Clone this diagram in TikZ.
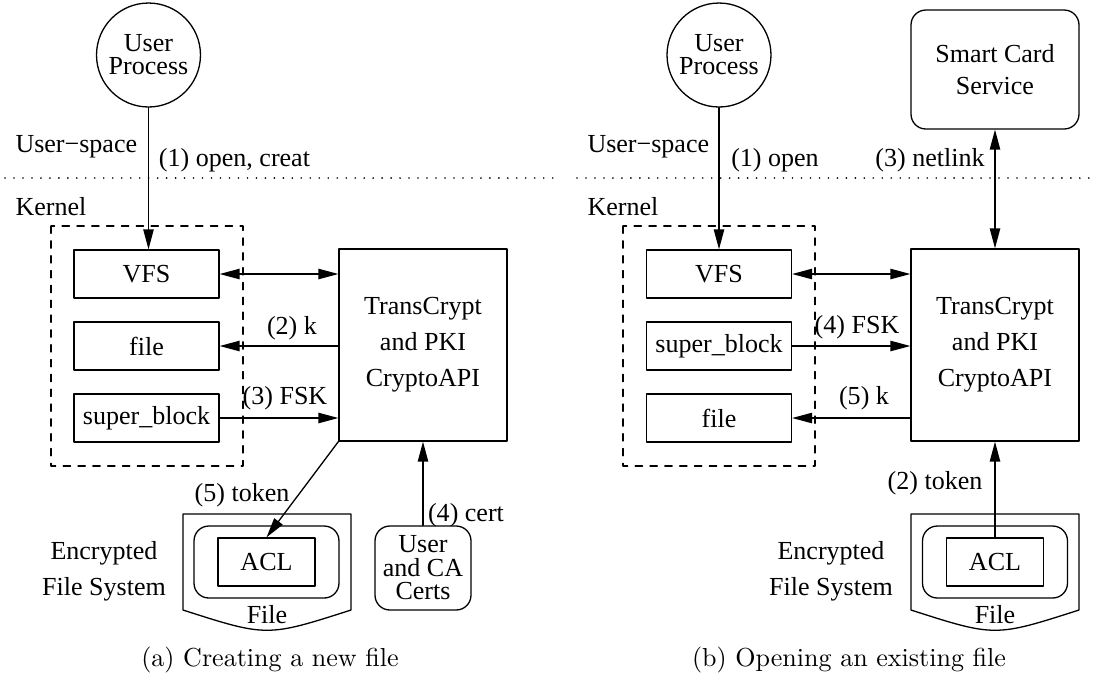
\documentclass[tikz,border=0pt]{standalone}
\usepackage{fontspec}
\newfontfamily\figfont{Liberation Serif}
\usepackage{tikz}
\usetikzlibrary{arrows.meta}
\usetikzlibrary{positioning}

\tikzset{
  blk/.style={draw,line width=0.5pt,inner sep=0pt,minimum width=1.9575cm,minimum height=0.648cm,font=\figfont},
  api/.style={draw,line width=0.5pt,inner sep=0pt,minimum width=2.268cm,minimum height=2.592cm,align=center,font=\figfont\fontsize{10}{13.8}\selectfont},
  svc/.style={draw,line width=0.5pt,rounded corners=0.2cm,inner sep=0pt,minimum width=2.268cm,minimum height=1.6065cm,align=center,font=\figfont\fontsize{10}{12}\selectfont},
  proc/.style={draw,circle,line width=0.5pt,inner sep=0pt,minimum size=1.404cm,align=center,font=\figfont\fontsize{10}{8.8}\selectfont},
  certs/.style={draw,line width=0.5pt,rounded corners=0.2cm,inner sep=0pt,minimum width=1.296cm,minimum height=1.134cm,align=center,font=\figfont\fontsize{10}{9}\selectfont},
  fobj/.style={draw,line width=0.5pt,rounded corners=0.2cm,inner sep=0pt,minimum width=1.9575cm,minimum height=0.972cm},
  acl/.style={draw,line width=0.5pt,inner sep=0pt,minimum width=1.31cm,minimum height=0.648cm,font=\figfont},
  lbl/.style={inner sep=0pt,font=\figfont},
  fslbl/.style={inner sep=0pt,align=center,font=\figfont\fontsize{10}{14}\selectfont},
  kbox/.style={line width=0.5pt,dash pattern=on 2.8pt off 2.9pt},
  uline/.style={line width=0.7pt,dash pattern=on 0pt off 3.45pt},
  efs/.style={line width=0.5pt},
  flow/.style={line width=0.5pt,->},
  subcap/.style={inner sep=0pt}
}

\begin{document}
\begin{tikzpicture}[line cap=round,line join=round,>={Triangle[length=2.7mm,width=1.4mm]},x=0.0135cm,y=-0.0135cm]
\useasboundingbox (0,0) rectangle (1096,696);
% (a) creating a new file
\node[proc] (userA) at (148.5,55) {User\\Process};
\node[lbl,anchor=west] (uspA) at (15,147) {User−space};
\node[lbl,anchor=west] (kerA) at (15,207) {Kernel};
\draw[uline] (5,178) -- (555,178);
\draw[kbox] (51,226) rectangle (243,466);
\node[blk] (vfsA) at (146.5,274) {VFS};
\node[blk] (fileA) at (146.5,346) {file};
\node[blk] (sbA) at (146.5,418) {super\_block};
\node[api] (tcA) at (423,345) {TransCrypt\\and PKI\\CryptoAPI};
\draw[efs] (183,514) -- (183,610) .. controls (267,637) and (267,637) .. (351,610) -- (351,514) -- cycle;
\node[fobj] (fobjA) at (266.5,562) {};
\node[acl] (aclA) at (266.5,562) {ACL};
\node[lbl] (flA) at (267,615) {File};
\node[fslbl] (efsA) at (104,571.5) {Encrypted\\File System};
\node[certs] (certA) at (423,568) {User\\and CA\\Certs};
\node[lbl] (openA) at (234.5,160) {(1) open, creat};
\node[lbl] (kA) at (292,328) {(2) k};
\node[lbl] (fskA) at (285,398) {(3) FSK};
\node[lbl] (certlA) at (466,515) {(4) cert};
\node[lbl] (tokA) at (242,495) {(5) token};
\draw[flow] (userA.south) -- (userA.south |- vfsA.north);
\draw[flow,<->] (vfsA.east) -- (vfsA.east -| tcA.west);
\draw[flow] (fileA.east -| tcA.west) -- (fileA.east);
\draw[flow] (sbA.east) -- (sbA.east -| tcA.west);
\draw[flow] (tcA.south west) -- (aclA.north);
\draw[flow] (certA.north) -- (certA.north |- tcA.south);
\node[subcap] (capA) at (270,660) {(a) Creating a new file};
% (b) opening an existing file
\node[proc] (userB) at (719,55) {User\\Process};
\node[lbl,anchor=west] (uspB) at (587,147) {User−space};
\node[lbl,anchor=west] (kerB) at (587,207) {Kernel};
\draw[uline] (577,178) -- (1091,178);
\node[svc] (scB) at (995,69.5) {Smart Card\\Service};
\draw[kbox] (623,226) rectangle (815,466);
\node[blk] (vfsB) at (719,274) {VFS};
\node[blk] (sbB) at (719,346) {super\_block};
\node[blk] (fileB) at (719,418) {file};
\node[api] (tcB) at (995,345) {TransCrypt\\and PKI\\CryptoAPI};
\draw[efs] (911,514) -- (911,610) .. controls (995,637) and (995,637) .. (1079,610) -- (1079,514) -- cycle;
\node[fobj] (fobjB) at (995,562) {};
\node[acl] (aclB) at (995,562) {ACL};
\node[lbl] (flB) at (995,615) {File};
\node[fslbl] (efsB) at (831,571.5) {Encrypted\\File System};
\node[lbl] (openB) at (775,160) {(1) open};
\node[lbl] (tokB) at (935,483) {(2) token};
\node[lbl] (netB) at (930,160) {(3) netlink};
\node[lbl] (fskB) at (857,327) {(4) FSK};
\node[lbl] (kB) at (864,398) {(5) k};
\draw[flow] (userB.south) -- (userB.south |- vfsB.north);
\draw[flow,<->] (vfsB.east) -- (vfsB.east -| tcB.west);
\draw[flow,<->] (scB.south) -- (tcB.north);
\draw[flow] (aclB.north) -- (aclB.north |- tcB.south);
\draw[flow] (sbB.east) -- (sbB.east -| tcB.west);
\draw[flow] (fileB.east -| tcB.west) -- (fileB.east);
\node[subcap] (capB) at (849,660) {(b) Opening an existing file};
\end{tikzpicture}
\end{document}
